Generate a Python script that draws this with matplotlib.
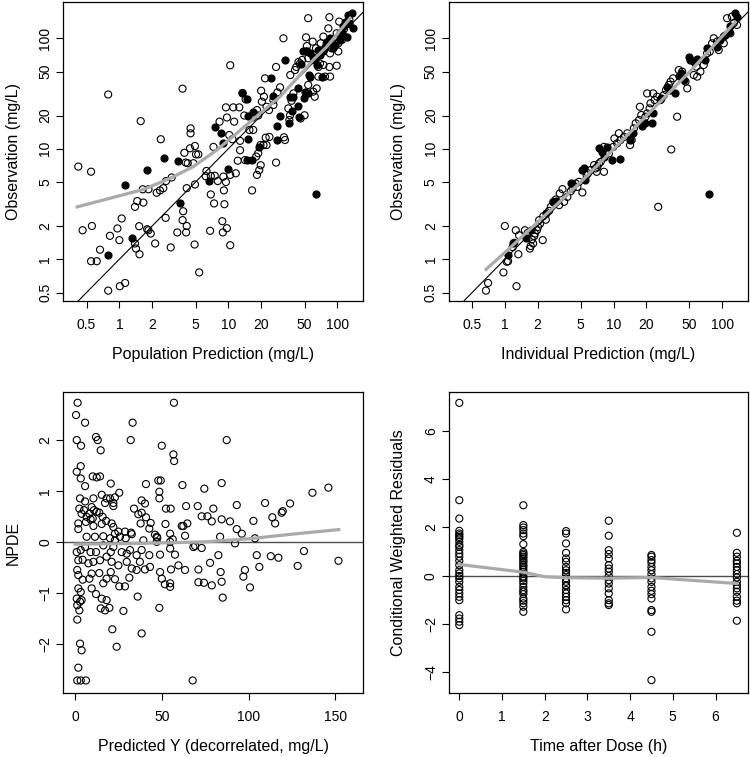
import numpy as np
import matplotlib.pyplot as plt
from matplotlib.ticker import FixedLocator, FixedFormatter, NullLocator

plt.rcParams['font.family'] = ['Liberation Sans', 'DejaVu Sans']

# ---- top left: observation vs population prediction (mg/L) ----
pred_open = [0.42, 0.55, 0.79, 0.46, 0.56, 0.55, 0.62, 0.665, 0.82, 0.96, 1.05, 1.0, 0.79, 1.01, 1.13,
             1.39, 1.42, 1.53, 1.52, 1.39, 1.46, 1.66, 1.57, 1.64, 1.85, 1.85, 1.94, 1.8, 2.13, 2.4,
             2.2, 2.36, 2.53, 2.68, 3.02, 2.66, 2.96, 3.4, 3.8, 3.95, 4.45, 4.94, 4.5, 4.5, 4.06,
             4.24, 4.77, 5.05, 5.3, 4.15, 3.85, 3.8, 4.15, 4.1, 4.9, 4.94, 5.4, 6.3, 6.2, 6.9,
             7.5, 8.0, 9.0, 9.5, 10.4, 11.7, 6.9, 7.4, 9.1, 9.2, 6.8, 8.8, 8.9, 9.7, 10.4,
             7.3, 8.3, 9.5, 11.1, 12.6, 9.7, 11.3, 10.2, 10.9, 12.8, 12.8, 12.2, 14.2, 15.6, 16.9,
             10.4, 13.5, 14.4, 14.0, 16.7, 18.8, 18.3, 18.0, 18.8, 19.2, 19.8, 18.3, 16.5, 19.7, 21,
             22, 23.8, 22.4, 20, 21.2, 20.3, 21.7, 22.4, 23.6, 25.9, 25.9, 27.4, 28.2, 29.8, 27.4,
             32, 32.4, 33.1, 35.5, 36.8, 36.3, 38, 39.5, 37, 40.9, 42, 45.4, 44, 47.5, 46,
             50, 51.6, 54, 52.5, 51.6, 54, 54, 62, 60, 64.6, 67, 67, 69.3, 74.4, 77,
             59.4, 63.7, 70.3, 74.4, 79.8, 82.7, 84.5, 85.7, 88.7, 84.5, 98.6, 85.7, 102, 104, 102,
             110, 98.6, 107, 115, 122, 129]
obs_open = [6.9, 6.2, 31, 1.83, 2.0, 0.96, 0.96, 1.22, 1.63, 1.9, 2.34, 1.49, 0.52, 0.57, 0.61,
            1.39, 1.25, 1.11, 1.99, 2.98, 3.36, 3.26, 17.8, 4.3, 4.3, 1.83, 1.71, 1.87, 1.39, 12.2,
            4.0, 4.2, 4.4, 5.1, 5.5, 2.37, 1.28, 1.75, 35, 9.2, 10.1, 10.6, 13.8, 15.3, 7.5,
            7.4, 7.4, 8.9, 8.9, 4.4, 2.72, 2.26, 2.0, 1.75, 1.36, 4.75, 0.76, 6.3, 5.65, 5.65,
            5.7, 5.1, 5.6, 5.0, 5.8, 6.0, 3.86, 3.2, 4.2, 3.15, 1.81, 2.21, 1.75, 1.91, 1.34,
            10.4, 17.6, 23.7, 23.7, 23.7, 19.2, 17.6, 13.3, 12.2, 11.8, 9.7, 7.8, 7.9, 14.8, 14.8,
            57, 32, 28, 20, 19.2, 20, 22.4, 8.5, 9.1, 6.4, 7.1, 5.8, 4.2, 10.8, 10.8,
            12.6, 12.8, 10.8, 33.5, 29.6, 26.7, 43.4, 24, 22.4, 27.6, 24.9, 55, 32.4, 36, 7.5,
            100, 12.7, 12, 23.2, 20.1, 18.2, 27.2, 31.7, 46.5, 51.6, 55, 59, 61, 63.6, 18.8,
            20.1, 102, 152, 85, 76, 66, 37.8, 29.6, 32.9, 35.2, 45, 55, 59, 57.4, 45,
            93.3, 81.2, 90.1, 103.5, 90, 123, 155, 73, 81, 55, 56.5, 45, 76, 141.6, 90,
            96.6, 111, 111, 121, 137, 147]
pred_fill = [0.79, 1.13, 1.3, 1.8, 2.57, 3.43, 3.6, 6.7, 7.55, 8.6, 8.9, 10, 13.3, 14.8, 15.3,
             15, 14.9, 16.4, 16.9, 19.1, 24.7, 25.9, 28.2, 27.8, 29.8, 33.3, 36.3, 36.8, 38, 39.5,
             44, 44.8, 44, 46, 49.6, 51, 54, 55, 56.5, 48, 52.5, 56.5, 60, 62, 64.6,
             63.7, 67, 69.3, 71.6, 74.4, 77, 79.8, 85.7, 91.8, 95.2, 105.6, 110, 113.5, 122, 124,
             126, 135.4, 138, 129, 117]
obs_fill = [1.1, 4.7, 1.56, 6.4, 8.2, 7.8, 3.26, 5.1, 15.8, 14, 11.3, 6.6, 31.7, 28, 20,
            12.2, 7.9, 7.9, 21.6, 10.4, 44, 30, 12, 16, 20, 63.6, 17, 29.6, 22, 29.6,
            24.4, 19.2, 35.7, 59, 28.6, 32.9, 31.7, 46.5, 45, 76, 76, 73, 68, 63.6, 57.4,
            3.88, 78, 70.6, 45, 76, 84, 93.3, 100, 81, 87, 96.6, 111, 128, 103.5, 137,
            163, 169, 123, 137, 139]
smooth_pred = [0.41, 1.66, 2.92, 4.77, 7.8, 11.9, 19.5, 29.8, 45.4, 60, 80, 131]
smooth_obs = [2.98, 4.28, 5.4, 6.9, 9.7, 13.8, 20.9, 29.6, 46.5, 63.6, 84, 152]

# ---- top right: observation vs individual prediction (mg/L) ----
ipred_open = [0.67, 0.7, 0.97, 1.28, 1.0, 1.26, 1.07, 1.04, 1.18, 1.33, 1.22, 1.35, 1.53, 1.62, 1.7,
              1.73, 1.82, 1.77, 1.86, 1.89, 1.97, 2.02, 2.11, 2.07, 2.23, 2.38, 2.26, 2.55, 2.65, 2.8,
              2.94, 3.16, 3.2, 3.39, 3.51, 3.76, 4.04, 4.19, 4.65, 5.17, 4.49, 4.82, 5.66, 5.82, 6.17,
              6.62, 6.84, 7.1, 7.36, 7.62, 7.0, 8.17, 8.17, 8.47, 9.08, 9.96, 10.2, 11.2, 10.8, 11.6,
              12.5, 13.4, 14.2, 14.7, 15.4, 16.0, 17.2, 17.5, 18.0, 19.7, 20.4, 21.5, 21.9, 20.4, 23.2,
              23.9, 25.2, 27.1, 29.1, 30.4, 32.3, 33.5, 35.4, 38.5, 34, 25.8, 39.9, 42.9, 46, 47.7,
              54.8, 58, 58.9, 63.1, 67.7, 72.7, 76.9, 80.9, 83.7, 89.8, 93, 103.5, 111, 123, 128,
              119, 137, 103.5]
obs2_open = [0.52, 0.61, 0.76, 0.57, 2.0, 1.83, 0.96, 0.95, 1.29, 1.11, 1.41, 1.65, 1.83, 1.73, 1.25,
             1.32, 1.39, 1.51, 1.62, 1.71, 1.83, 1.96, 2.1, 2.26, 1.49, 2.28, 2.45, 2.74, 2.98, 3.31,
             3.47, 3.09, 3.94, 4.31, 3.31, 3.67, 4.13, 4.37, 4.52, 4.02, 4.85, 5.02, 5.77, 6.0, 6.41,
             7.11, 6.64, 6.87, 7.36, 7.62, 6.19, 6.19, 10.4, 9.4, 9.08, 10.4, 12.4, 13.8, 11.2, 12.0,
             12.8, 13.8, 10.8, 12.0, 15.3, 17.0, 18.2, 24.0, 20.2, 19.5, 20.9, 23.2, 25.8, 31.7, 31.7,
             27.6, 29.6, 27.6, 30.6, 34, 37.8, 40.5, 43.4, 19.5, 9.86, 2.98, 51.6, 49.9, 40.5, 35.2,
             46.5, 55.3, 45, 49.9, 57.3, 73.1, 75.7, 90.1, 100, 93.3, 78.3, 90.1, 152, 157, 137,
             111, 132, 103.5]
ipred_fill = [1.07, 1.19, 1.56, 1.73, 2.4, 2.8, 2.94, 4.04, 5.17, 5.36, 5.5, 7.36, 7.89, 8.77, 8.17,
              9.75, 11.5, 14.2, 15.2, 18.4, 19.3, 22.7, 23.2, 75.3, 27.1, 31.2, 33, 37.2, 39.9, 42,
              44.4, 49.3, 51.1, 54.8, 58.9, 70.2, 72.7, 89.8, 96.4, 107, 115, 119, 132, 137]
obs2_fill = [1.09, 1.4, 1.56, 1.83, 2.6, 3.3, 3.4, 4.85, 6.41, 6.64, 5.2, 10.1, 9.4, 10.4, 8.46,
             7.89, 8.0, 12.1, 14.0, 16.0, 17.0, 17.2, 20.9, 3.88, 28.6, 36, 34, 31.7, 46, 48.6,
             41.9, 67.3, 63.6, 61.5, 64.5, 63.6, 82.3, 84, 96.6, 107, 115, 128, 169, 157]
smooth_ipred = [0.67, 1.0, 2.14, 5, 10, 20, 50, 132]
smooth_obs2 = [0.81, 1.15, 2.3, 5.0, 9.9, 19.8, 49.5, 140]

# ---- bottom left: NPDE vs decorrelated prediction ----
ydec = [1.5, 57, 0.6, 5.8, 33.2, 1.0, 3.5, 12.1, 13.1, 14.8, 32.1, 50, 87.4, 56.7, 57.1,
        3.3, 1.0, 3.3, 5.8, 10.2, 12.5, 14.4, 20.6, 40.9, 48, 49.4, 48.6, 48.6, 61.9, 74.5,
        84.5, 136.8, 146, 2.9, 2.5, 3.8, 1.9, 1.9, 5.8, 6.3, 5.2, 6.7, 10.6, 9.6, 10.9,
        12.5, 10.2, 8.3, 9.0, 10.6, 15.4, 18.2, 20.2, 17.3, 22.1, 23.0, 22.1, 25.5, 14.0, 15.9,
        15.4, 17.9, 21.1, 22.1, 23.0, 25.0, 28.8, 32.3, 34, 36.5, 38.4, 37.8, 40.3, 38.4, 40.9,
        43.6, 42.8, 46.1, 47.4, 52.4, 55.1, 52.1, 54.8, 56.3, 61.5, 62.4, 64.7, 63.4, 64.0, 70.7,
        73.0, 76.3, 78.8, 79.7, 84.5, 83.6, 89.3, 93.2, 93.2, 96.1, 102.8, 103.7, 109.5, 113.7, 115.3,
        119.1, 119.7, 123.9, 6.7, 11.5, 16.3, 20.2, 23.0, 25.9, 29.2, 32.7, 39.4, 47.1, 47.1,
        54.8, 1.0, 3.3, 5.8, 9.0, 12.1, 16.3, 20.6, 22.1, 26.9, 29.8, 31.7, 35.5, 38.4, 42.8,
        49.0, 54.8, 57.6, 59.6, 68.2, 69.2, 73.0, 82.6, 92.2, 104.7, 112.8, 117.2, 131.9, 151.8, 128.3,
        106.2, 1.9, 4.4, 7.7, 10.6, 14.4, 18.2, 21.1, 25.0, 29.8, 32.7, 35.5, 37.4, 40.3, 43.2,
        49.0, 50.0, 55.3, 63.4, 71.1, 77.8, 83.9, 97.9, 97.0, 1.3, 1.9, 4.4, 8.3, 9.6, 14.0,
        16.3, 18.2, 20.6, 23.0, 25.5, 28.8, 31.3, 51.8, 54.8, 54.8, 71.1, 74.3, 78.8, 84.5, 85.1,
        100.8, 1.9, 3.3, 1.0, 2.9, 1.3, 2.5, 1.3, 3.8, 9.6, 12.1, 15.4, 18.2, 14.8, 17.3,
        19.8, 27.9, 36.1, 48.6, 21.5, 38.4, 24.0, 2.9, 3.8, 1.9, 1.3, 3.3, 6.3, 67.8]
npde = [2.72, 2.72, 2.48, 2.33, 2.33, 1.99, 1.88, 2.05, 1.99, 1.79, 1.99, 1.88, 1.99, 1.71, 1.58,
        1.48, 1.37, 1.24, 1.09, 1.28, 1.26, 1.28, 1.14, 1.13, 1.2, 1.2, 0.98, 0.85, 1.11, 1.04,
        1.15, 0.96, 1.06, 0.85, 0.65, 0.55, 0.36, 0.25, 0.79, 0.39, 0.62, 0.49, 0.85, 0.68, 0.62,
        0.59, 0.46, 0.55, 0.44, 0.31, 0.92, 0.85, 0.85, 0.76, 0.76, 0.87, 0.70, 0.96, 0.57, 0.49,
        0.35, 0.41, 0.36, 0.29, 0.16, 0.20, 0.20, 0.18, 0.65, 0.54, 0.57, 0.36, 0.75, 0.81, 0.48,
        0.37, 0.26, 0.14, 0.08, 0.65, 0.65, 0.35, 0.16, 0.05, 0.31, 0.31, 0.36, 0.12, 0.70, 0.70,
        0.50, 0.50, 0.40, 0.65, 0.44, 0.10, 0.40, 0.72, 0.25, 0.16, 0.41, 0.07, 0.76, 0.48, 0.36,
        0.57, 0.60, 0.75, 0.10, 0.10, 0.11, 0.07, 0.03, 0.10, 0.07, 0.15, 0.03, 0.10, 0.0,
        0.0, -0.20, -0.16, -0.10, -0.20, -0.20, -0.07, -0.20, -0.10, -0.20, -0.23, -0.16, -0.26, -0.16, -0.26,
        -0.25, -0.13, -0.25, -0.46, -0.10, -0.08, -0.12, -0.26, -0.03, -0.26, -0.28, -0.31, -0.18, -0.37, -0.47,
        -0.49, -0.36, -0.35, -0.42, -0.39, -0.36, -0.29, -0.39, -0.46, -0.39, -0.52, -0.55, -0.39, -0.54, -0.49,
        -0.59, -0.72, -0.54, -0.55, -0.54, -0.41, -0.59, -0.55, -0.68, -0.55, -0.65, -0.74, -0.72, -0.62, -0.61,
        -0.81, -0.72, -0.59, -0.73, -0.87, -0.87, -0.70, -0.83, -0.81, -0.88, -0.79, -0.80, -0.85, -0.78, -1.09,
        -0.89, -0.91, -0.98, -1.11, -1.17, -1.24, -1.34, -1.52, -1.14, -0.91, -1.02, -1.11, -1.14, -1.30, -1.34,
        -1.29, -1.35, -1.07, -1.29, -1.71, -1.79, -2.05, -1.99, -2.12, -2.46, -2.71, -2.71, -2.71, -2.71]
smooth_ydec = [0, 30, 50, 75, 100, 125, 152]
smooth_npde = [-0.045, -0.035, -0.02, 0.0, 0.06, 0.15, 0.24]

# ---- bottom right: CWRES vs time after dose (h) ----
times = [0, 1.5, 2.5, 3.5, 4.5, 6.5]
cwres_0 = [7.16, 3.13, 2.37, 1.86, 1.75, 1.68, 1.61, 1.54, 1.41, 1.27, 1.20, 1.06, 0.92, 0.79, 0.62,
           0.44, 0.23, 0.10, -0.01, -0.11, -0.25, -0.46, -0.59, -0.73, -0.87, -1.01, -1.63, -1.77, -1.90, -2.04]
cwres_15 = [2.92, 2.10, 2.0, 1.89, 1.75, 1.64, 1.31, 0.99, 0.92, 0.86, 0.79, 0.72, 0.62, 0.54, 0.44,
            0.37, 0.26, 0.17, 0.07, -0.04, -0.11, -0.21, -0.32, -0.46, -0.59, -0.66, -0.76, -0.94, -1.03, -1.14,
            -1.28, -1.49]
cwres_25 = [1.85, 1.75, 1.34, 0.95, 0.72, 0.58, 0.37, 0.23, 0.12, 0.03, -0.11, -0.25, -0.39, -0.43, -0.59,
            -0.73, -0.87, -1.01, -1.14, -1.39]
cwres_35 = [2.28, 1.66, 1.06, 0.90, 0.72, 0.44, 0.30, 0.17, -0.01, -0.18, -0.32, -0.52, -0.73, -1.01, -1.14,
            -1.21]
cwres_45 = [0.86, 0.79, 0.65, 0.54, 0.37, 0.23, 0.07, -0.11, -0.25, -0.46, -0.62, -0.76, -0.94, -1.42, -1.49,
            -2.32, -4.32]
cwres_65 = [1.78, 0.95, 0.79, 0.62, 0.51, 0.37, 0.23, 0.07, -0.07, -0.25, -0.39, -0.52, -0.66, -0.87, -1.03,
            -1.14, -1.86]
smooth_t = [0, 1.5, 2.0, 2.5, 3.5, 4.5, 6.5]
smooth_cwres = [0.47, 0.15, -0.04, -0.08, -0.1, -0.07, -0.32]

SMOOTH = '#aaaaaa'
W, H = 750, 757
fig = plt.figure(figsize=(W / 100, H / 100), dpi=100)


def panel(left, top, right, bottom):
    return fig.add_axes([left / W, 1 - bottom / H, (right - left) / W, (bottom - top) / H])


def style(ax, xlabel, ylabel):
    for s in ax.spines.values():
        s.set_linewidth(0.9)
    ax.tick_params(direction='out', length=5, width=0.8, labelsize=10, pad=7)
    ax.tick_params(axis='y', labelrotation=90, pad=3)
    for lab in ax.get_yticklabels():
        lab.set_va('center')
    ax.set_xlabel(xlabel, fontsize=11.5, va='center')
    ax.set_ylabel(ylabel, fontsize=11.5, va='center')
    bb = ax.get_position()
    ax.xaxis.set_label_coords(0.5, -53 / (bb.height * H))
    ax.yaxis.set_label_coords(-50 / (bb.width * W), 0.5)


def open_pts(ax, x, y):
    ax.scatter(x, y, s=26, facecolors='none', edgecolors='black', linewidths=0.8, zorder=3)


def fill_pts(ax, x, y):
    ax.scatter(x, y, s=26, color='black', linewidths=0.8, zorder=3)


def log_axes(ax):
    ax.set_xscale('log')
    ax.set_yscale('log')
    ax.set_xlim(0.306, 173)
    ax.set_ylim(0.419, 213)
    ticks = [0.5, 1, 2, 5, 10, 20, 50, 100]
    labels = ['0.5', '1', '2', '5', '10', '20', '50', '100']
    for axis in (ax.xaxis, ax.yaxis):
        axis.set_major_locator(FixedLocator(ticks))
        axis.set_major_formatter(FixedFormatter(labels))
        axis.set_minor_locator(NullLocator())
    ax.plot([0.01, 1000], [0.01, 1000], color='black', lw=0.8, zorder=2)


# top left
ax1 = panel(63.3, 2, 363.3, 301)
log_axes(ax1)
open_pts(ax1, pred_open, obs_open)
fill_pts(ax1, pred_fill, obs_fill)
ax1.plot(smooth_pred, smooth_obs, color=SMOOTH, lw=2.3, zorder=4)
style(ax1, 'Population Prediction (mg/L)', 'Observation (mg/L)')

# top right
ax2 = panel(449, 2, 748, 301)
log_axes(ax2)
open_pts(ax2, ipred_open, obs2_open)
fill_pts(ax2, ipred_fill, obs2_fill)
ax2.plot(smooth_ipred, smooth_obs2, color=SMOOTH, lw=2.3, zorder=4)
style(ax2, 'Individual Prediction (mg/L)', 'Observation (mg/L)')

# bottom left
ax3 = panel(63.3, 392, 363.3, 693)
ax3.set_xlim(-6.74, 166.1)
ax3.set_ylim(-2.955, 2.93)
ax3.set_xticks([0, 50, 100, 150])
ax3.set_yticks([-2, -1, 0, 1, 2])
ax3.axhline(0, color='#4d4d4d', lw=1, zorder=2)
open_pts(ax3, ydec, npde)
ax3.plot(smooth_ydec, smooth_npde, color=SMOOTH, lw=2.3, zorder=4)
style(ax3, 'Predicted Y (decorrelated, mg/L)', 'NPDE')

# bottom right
ax4 = panel(449, 392, 748, 693)
ax4.set_xlim(-0.241, 6.761)
ax4.set_ylim(-4.853, 7.61)
ax4.set_xticks([0, 1, 2, 3, 4, 5, 6])
ax4.set_yticks([-4, -2, 0, 2, 4, 6])
ax4.axhline(0, color='#4d4d4d', lw=1, zorder=2)
for t, vals in zip(times, [cwres_0, cwres_15, cwres_25, cwres_35, cwres_45, cwres_65]):
    open_pts(ax4, np.full(len(vals), t), vals)
ax4.plot(smooth_t, smooth_cwres, color=SMOOTH, lw=2.3, zorder=4)
style(ax4, 'Time after Dose (h)', 'Conditional Weighted Residuals')

fig.savefig('out.png', dpi=100)
